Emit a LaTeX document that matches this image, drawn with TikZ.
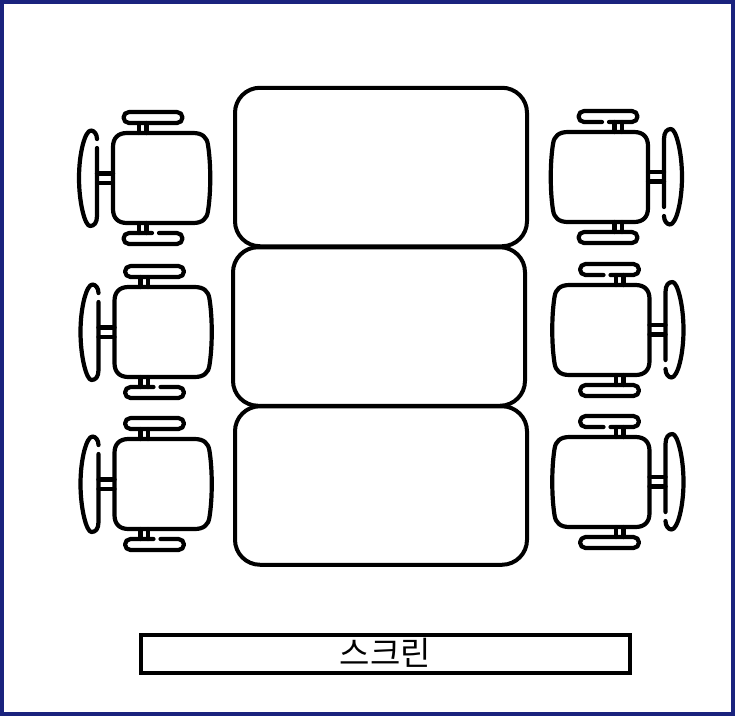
\documentclass[tikz,border=0pt]{standalone}
\usepackage{fontspec}
\newfontfamily\krfont{Noto Sans CJK KR}
\definecolor{frameblue}{HTML}{1A237E}
\tikzset{
  tablebox/.style={draw=black,line width=4pt,rounded corners=25pt,minimum width=292pt,minimum height=158.5pt,inner sep=0pt},
  screenbox/.style={draw=black,line width=4pt,minimum width=489pt,minimum height=38pt,inner sep=0pt},
  chair/.pic={
    \begin{scope}[line width=4.2pt,line cap=round,line join=round]
      % seat
      \draw (-49,-31) .. controls (-49,-40) and (-44,-45) .. (-35,-45) -- (31,-45)
        .. controls (40,-45) and (45,-41) .. (46,-33)
        .. controls (49,-14) and (49,14) .. (46,33)
        .. controls (45,41) and (40,45) .. (31,45) -- (-35,45)
        .. controls (-44,45) and (-49,40) .. (-49,31) -- cycle;
      % top arm
      \draw (-33,-66) -- (15,-66) arc[start angle=-90,end angle=90,radius=5.5] -- (-33,-55) arc[start angle=90,end angle=270,radius=5.5];
      \draw (-23,-55) -- (-23,-45) (-15.5,-55) -- (-15.5,-45);
      % bottom arm
      \draw (-10,55) -- (-33,55) arc[start angle=-90,end angle=-270,radius=5.5] -- (15,66) arc[start angle=90,end angle=-90,radius=5.5] -- (-3,55);
      \draw (-23,45) -- (-23,55) (-15.5,45) -- (-15.5,55);
      % back
      \draw (-65,-30) -- (-65,38) .. controls (-65,45) and (-68,48) .. (-72,48)
        .. controls (-77,48) and (-83,25) .. (-83,0)
        .. controls (-83,-25) and (-77,-47.5) .. (-71,-47.5)
        .. controls (-68,-47.5) and (-65,-44) .. (-65,-39);
      \draw (-65,-4.5) -- (-49,-4.5) (-65,5) -- (-49,5);
    \end{scope}
  }
}
\begin{document}
\begin{tikzpicture}[x=1pt,y=-1pt]
  \useasboundingbox (0,0) rectangle (735,716);
  \draw[frameblue,line width=4pt] (2,2) rectangle (733,714);
  \node[tablebox] (tableA) at (381,167) {};
  \node[tablebox] (tableB) at (379,326.5) {};
  \node[tablebox] (tableC) at (381,485.5) {};
  \pic at (162,178) {chair};
  \pic at (163.5,332) {chair};
  \pic at (163.5,484) {chair};
  \pic[rotate=180] at (599,177) {chair};
  \pic[rotate=180] at (600.5,330) {chair};
  \pic[rotate=180] at (600.5,482) {chair};
  \node[screenbox] (screen) at (385.5,654) {};
  \node[font=\krfont\fontsize{33pt}{33pt}\selectfont,inner sep=0pt] (screenlabel) at (385.5,653) {스크린};
\end{tikzpicture}
\end{document}
